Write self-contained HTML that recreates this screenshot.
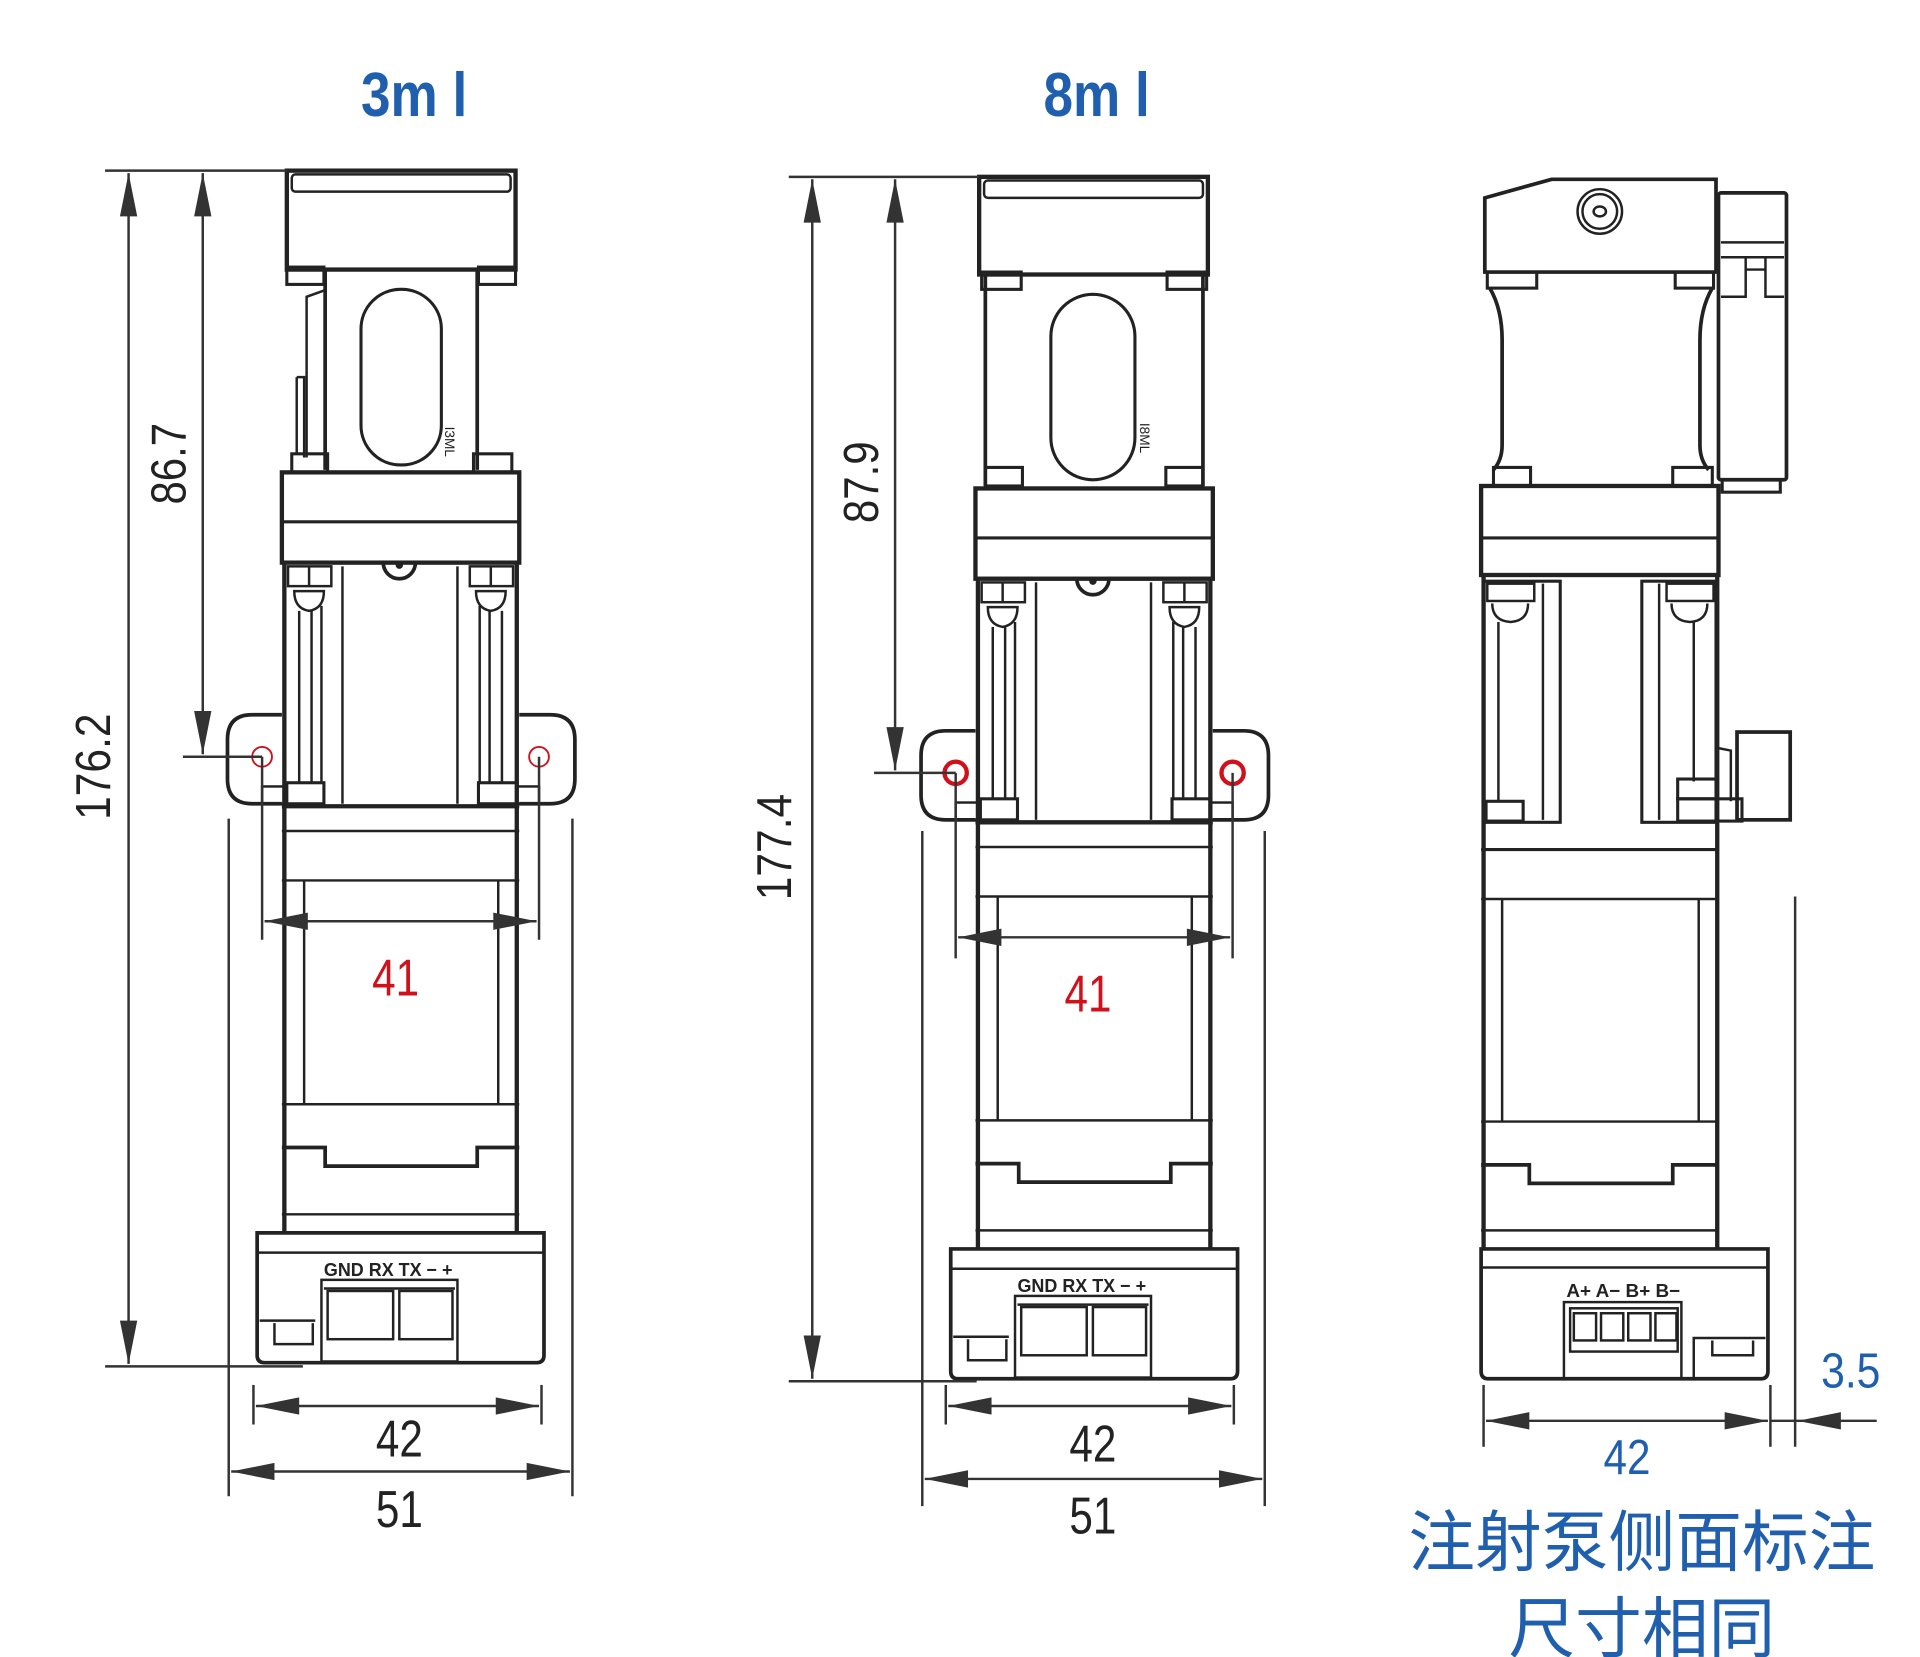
<!DOCTYPE html>
<html><head><meta charset="utf-8"><style>
html,body{margin:0;padding:0;background:#fff;}
svg{display:block;}
text{font-family:"Liberation Sans","Noto Sans CJK SC",sans-serif;}
</style></head><body>
<svg width="1920" height="1657" viewBox="0 0 1553 1340" preserveAspectRatio="none" xmlns="http://www.w3.org/2000/svg">
<defs>
<g id="lower">
  <path d="M228 578 H204 Q184 578 184 598 V630 Q184 650 204 650 H228" fill="none" stroke="#222" stroke-width="3"/>
  <path d="M420 578 H445 Q465 578 465 598 V630 Q465 650 445 650 H420" fill="none" stroke="#222" stroke-width="3"/>
  <rect x="228" y="382" width="192" height="73" fill="none" stroke="#222" stroke-width="3.5"/>
  <line x1="228" y1="422" x2="420" y2="422" stroke="#222" stroke-width="2.5"/>
  <line x1="230" y1="455" x2="230" y2="650" stroke="#222" stroke-width="3.5"/>
  <line x1="418" y1="455" x2="418" y2="650" stroke="#222" stroke-width="3.5"/>
  <path d="M228 455 H310 A13 13 0 0 0 336 455 H420" fill="none" stroke="#222" stroke-width="3"/>
  <circle cx="323" cy="457" r="3" fill="#222"/>
  <line x1="277" y1="458" x2="277" y2="650" stroke="#222" stroke-width="2"/>
  <line x1="370" y1="458" x2="370" y2="650" stroke="#222" stroke-width="2"/>
  <rect x="233" y="458" width="35" height="16" fill="none" stroke="#222" stroke-width="2"/>
  <line x1="250" y1="458" x2="250" y2="474" stroke="#222" stroke-width="2"/>
  <path d="M238 478 Q238 492 250 494 Q262 492 262 478 Z" fill="none" stroke="#222" stroke-width="2"/>
  <line x1="242" y1="494" x2="242" y2="632" stroke="#222" stroke-width="2"/>
  <line x1="252" y1="494" x2="252" y2="632" stroke="#222" stroke-width="2"/>
  <line x1="260" y1="490" x2="260" y2="632" stroke="#222" stroke-width="2"/>
  <rect x="380" y="458" width="35" height="16" fill="none" stroke="#222" stroke-width="2"/>
  <line x1="397" y1="458" x2="397" y2="474" stroke="#222" stroke-width="2"/>
  <path d="M385 478 Q385 492 397 494 Q409 492 409 478 Z" fill="none" stroke="#222" stroke-width="2"/>
  <line x1="388" y1="490" x2="388" y2="632" stroke="#222" stroke-width="2"/>
  <line x1="396" y1="494" x2="396" y2="632" stroke="#222" stroke-width="2"/>
  <line x1="406" y1="494" x2="406" y2="632" stroke="#222" stroke-width="2"/>
  <rect x="232" y="633" width="30" height="17" fill="none" stroke="#222" stroke-width="2.5"/>
  <rect x="387" y="633" width="31" height="17" fill="none" stroke="#222" stroke-width="2.5"/>
  <rect x="212" y="636" width="18" height="14" fill="none" stroke="#222" stroke-width="2"/>
  <rect x="418" y="636" width="18" height="14" fill="none" stroke="#222" stroke-width="2"/>
  <line x1="228" y1="652" x2="420" y2="652" stroke="#222" stroke-width="3.5"/>
  <line x1="230" y1="650" x2="230" y2="998" stroke="#222" stroke-width="3.5"/>
  <line x1="418" y1="650" x2="418" y2="998" stroke="#222" stroke-width="3.5"/>
  <line x1="228" y1="672" x2="420" y2="672" stroke="#222" stroke-width="2"/>
  <line x1="228" y1="712" x2="420" y2="712" stroke="#222" stroke-width="2"/>
  <line x1="246" y1="712" x2="246" y2="893" stroke="#222" stroke-width="2"/>
  <line x1="403" y1="712" x2="403" y2="893" stroke="#222" stroke-width="2"/>
  <line x1="228" y1="893" x2="420" y2="893" stroke="#222" stroke-width="2"/>
  <path d="M228 928 H263 V943 H386 V928 H420" fill="none" stroke="#222" stroke-width="3"/>
  <line x1="228" y1="982" x2="420" y2="982" stroke="#222" stroke-width="2"/>
  <path d="M208 997 H440 V1096 Q440 1102 434 1102 H214 Q208 1102 208 1096 Z" fill="#fff" stroke="#222" stroke-width="3"/>
  <line x1="208" y1="1013" x2="440" y2="1013" stroke="#222" stroke-width="2"/>
  <rect x="260" y="1035" width="110" height="66" fill="none" stroke="#222" stroke-width="2"/>
  <line x1="262" y1="1042" x2="368" y2="1042" stroke="#222" stroke-width="2"/>
  <rect x="265" y="1044" width="53" height="39" fill="none" stroke="#222" stroke-width="2"/>
  <rect x="323" y="1044" width="43" height="39" fill="none" stroke="#222" stroke-width="2"/>
  <path d="M210 1068 H255" stroke="#222" stroke-width="2"/>
  <path d="M222 1070 V1087 H253 V1070" fill="none" stroke="#222" stroke-width="2"/>
  <text x="262" y="1032" font-size="15" font-weight="bold" fill="#222" textLength="104" lengthAdjust="spacingAndGlyphs">GND RX TX − +</text>
</g>
</defs>

<text x="335" y="94" font-size="50" font-weight="bold" fill="#1f5fad" text-anchor="middle" textLength="86" lengthAdjust="spacingAndGlyphs">3m l</text>
<text x="887" y="94" font-size="50" font-weight="bold" fill="#1f5fad" text-anchor="middle" textLength="86" lengthAdjust="spacingAndGlyphs">8m l</text>

<g>
  <rect x="232" y="138" width="185" height="80" fill="none" stroke="#222" stroke-width="3.5"/>
  <rect x="236" y="141" width="177" height="14" rx="3" fill="none" stroke="#222" stroke-width="2"/>
  <rect x="232" y="216" width="30" height="14" fill="none" stroke="#222" stroke-width="2.5"/>
  <rect x="387" y="216" width="30" height="14" fill="none" stroke="#222" stroke-width="2.5"/>
  <line x1="263" y1="218" x2="263" y2="380" stroke="#222" stroke-width="3"/>
  <line x1="386" y1="218" x2="386" y2="380" stroke="#222" stroke-width="3"/>
  <rect x="292" y="234" width="65" height="142" rx="32" fill="none" stroke="#222" stroke-width="2.5"/>
  <text transform="translate(360,345) rotate(90)" font-size="11" fill="#222">I3ML</text>
  <path d="M262 235 L248 240 V370" fill="none" stroke="#222" stroke-width="2"/>
  <path d="M240 305 H246 V370" fill="none" stroke="#222" stroke-width="2"/>
  <line x1="240" y1="305" x2="240" y2="368" stroke="#222" stroke-width="2"/>
  <rect x="236" y="367" width="29" height="15" fill="none" stroke="#222" stroke-width="2.5"/>
  <rect x="383" y="367" width="31" height="15" fill="none" stroke="#222" stroke-width="2.5"/>
  <use href="#lower"/>
  <circle cx="212" cy="612" r="8" fill="none" stroke="#d0101a" stroke-width="1.5"/>
  <circle cx="436" cy="612" r="8" fill="none" stroke="#d0101a" stroke-width="1.5"/>
</g>
<g stroke="#333" stroke-width="2" fill="#333">
  <line x1="85" y1="138" x2="232" y2="138"/>
  <line x1="85" y1="1105" x2="245" y2="1105"/>
  <line x1="104" y1="140" x2="104" y2="1103"/>
  <polygon points="104,140 97,175 111,175" stroke="none"/>
  <polygon points="104,1103 97,1068 111,1068" stroke="none"/>
  <line x1="148" y1="612" x2="212" y2="612"/>
  <line x1="164" y1="140" x2="164" y2="610"/>
  <polygon points="164,140 157,175 171,175" stroke="none"/>
  <polygon points="164,610 157,575 171,575" stroke="none"/>
  <line x1="212" y1="612" x2="212" y2="760"/>
  <line x1="436" y1="612" x2="436" y2="760"/>
  <line x1="214" y1="745" x2="434" y2="745"/>
  <polygon points="214,745 249,738 249,752" stroke="none"/>
  <polygon points="434,745 399,738 399,752" stroke="none"/>
  <line x1="205" y1="1120" x2="205" y2="1152"/>
  <line x1="438" y1="1120" x2="438" y2="1152"/>
  <line x1="207" y1="1137" x2="436" y2="1137"/>
  <polygon points="207,1137 242,1130 242,1144" stroke="none"/>
  <polygon points="436,1137 401,1130 401,1144" stroke="none"/>
  <line x1="185" y1="662" x2="185" y2="1210"/>
  <line x1="463" y1="662" x2="463" y2="1210"/>
  <line x1="187" y1="1190" x2="461" y2="1190"/>
  <polygon points="187,1190 222,1183 222,1197" stroke="none"/>
  <polygon points="461,1190 426,1183 426,1197" stroke="none"/>
</g>
<text transform="translate(89,620) rotate(-90)" font-size="40" fill="#222" text-anchor="middle" textLength="86" lengthAdjust="spacingAndGlyphs">176.2</text>
<text transform="translate(150,375) rotate(-90)" font-size="40" fill="#222" text-anchor="middle" textLength="66" lengthAdjust="spacingAndGlyphs">86.7</text>
<text x="320" y="805" font-size="42" fill="#d0101a" text-anchor="middle" textLength="38" lengthAdjust="spacingAndGlyphs">41</text>
<text x="323" y="1178" font-size="42" fill="#222" text-anchor="middle" textLength="38" lengthAdjust="spacingAndGlyphs">42</text>
<text x="323" y="1235" font-size="42" fill="#222" text-anchor="middle" textLength="38" lengthAdjust="spacingAndGlyphs">51</text>

<g>
  <rect x="792" y="143" width="185" height="79" fill="none" stroke="#222" stroke-width="3.5"/>
  <rect x="796" y="146" width="177" height="14" rx="3" fill="none" stroke="#222" stroke-width="2"/>
  <rect x="794" y="220" width="32" height="14" fill="none" stroke="#222" stroke-width="2.5"/>
  <rect x="944" y="220" width="32" height="14" fill="none" stroke="#222" stroke-width="2.5"/>
  <line x1="797" y1="222" x2="797" y2="393" stroke="#222" stroke-width="3"/>
  <line x1="973" y1="222" x2="973" y2="393" stroke="#222" stroke-width="3"/>
  <rect x="850" y="238" width="68" height="150" rx="34" fill="none" stroke="#222" stroke-width="2.5"/>
  <text transform="translate(922,342) rotate(90)" font-size="11" fill="#222">I8ML</text>
  <rect x="797" y="378" width="30" height="15" fill="none" stroke="#222" stroke-width="2.5"/>
  <rect x="943" y="378" width="30" height="15" fill="none" stroke="#222" stroke-width="2.5"/>
  <use href="#lower" transform="translate(561,13)"/>
  <circle cx="773" cy="625" r="9" fill="none" stroke="#d0101a" stroke-width="3.5"/>
  <circle cx="997" cy="625" r="9" fill="none" stroke="#d0101a" stroke-width="3.5"/>
</g>
<g stroke="#333" stroke-width="2" fill="#333">
  <line x1="638" y1="143" x2="792" y2="143"/>
  <line x1="638" y1="1117" x2="790" y2="1117"/>
  <line x1="657" y1="145" x2="657" y2="1115"/>
  <polygon points="657,145 650,180 664,180" stroke="none"/>
  <polygon points="657,1115 650,1080 664,1080" stroke="none"/>
  <line x1="707" y1="625" x2="773" y2="625"/>
  <line x1="724" y1="145" x2="724" y2="623"/>
  <polygon points="724,145 717,180 731,180" stroke="none"/>
  <polygon points="724,623 717,588 731,588" stroke="none"/>
  <line x1="773" y1="625" x2="773" y2="775"/>
  <line x1="997" y1="625" x2="997" y2="775"/>
  <line x1="775" y1="758" x2="995" y2="758"/>
  <polygon points="775,758 810,751 810,765" stroke="none"/>
  <polygon points="995,758 960,751 960,765" stroke="none"/>
  <line x1="765" y1="1120" x2="765" y2="1152"/>
  <line x1="998" y1="1120" x2="998" y2="1152"/>
  <line x1="767" y1="1137" x2="996" y2="1137"/>
  <polygon points="767,1137 802,1130 802,1144" stroke="none"/>
  <polygon points="996,1137 961,1130 961,1144" stroke="none"/>
  <line x1="746" y1="672" x2="746" y2="1218"/>
  <line x1="1023" y1="672" x2="1023" y2="1218"/>
  <line x1="748" y1="1196" x2="1021" y2="1196"/>
  <polygon points="748,1196 783,1189 783,1203" stroke="none"/>
  <polygon points="1021,1196 986,1189 986,1203" stroke="none"/>
</g>
<text transform="translate(640,685) rotate(-90)" font-size="40" fill="#222" text-anchor="middle" textLength="86" lengthAdjust="spacingAndGlyphs">177.4</text>
<text transform="translate(710,390) rotate(-90)" font-size="40" fill="#222" text-anchor="middle" textLength="66" lengthAdjust="spacingAndGlyphs">87.9</text>
<text x="880" y="818" font-size="42" fill="#d0101a" text-anchor="middle" textLength="38" lengthAdjust="spacingAndGlyphs">41</text>
<text x="884" y="1182" font-size="42" fill="#222" text-anchor="middle" textLength="38" lengthAdjust="spacingAndGlyphs">42</text>
<text x="884" y="1240" font-size="42" fill="#222" text-anchor="middle" textLength="38" lengthAdjust="spacingAndGlyphs">51</text>

<g fill="none" stroke="#222" stroke-width="3">
  <path d="M1201 160 L1255 145 H1388 V220 H1201 Z"/>
  <circle cx="1294" cy="171" r="18" stroke-width="2"/>
  <circle cx="1294" cy="171" r="14" stroke-width="2"/>
  <ellipse cx="1294" cy="171" rx="5" ry="4" stroke-width="2"/>
  <rect x="1203" y="220" width="40" height="13" stroke-width="2.5"/>
  <rect x="1355" y="220" width="31" height="13" stroke-width="2.5"/>
  <path d="M1205 233 Q1215 250 1215 275 V360 Q1215 372 1208 380"/>
  <path d="M1385 233 Q1375 250 1375 275 V360 Q1375 372 1382 380"/>
  <rect x="1208" y="378" width="30" height="15" stroke-width="2.5"/>
  <rect x="1353" y="378" width="32" height="15" stroke-width="2.5"/>
  <rect x="1390" y="156" width="55" height="232" rx="2"/>
  <line x1="1392" y1="196" x2="1443" y2="196" stroke-width="2"/>
  <path d="M1392 208 H1443 M1392 240 H1412 V208 M1443 240 H1428 V208 M1412 218 H1428" stroke-width="2"/>
  <rect x="1393" y="388" width="47" height="10" stroke-width="2.5"/>
  <rect x="1198" y="393" width="192" height="72" stroke-width="3.5"/>
  <line x1="1198" y1="435" x2="1390" y2="435" stroke-width="2.5"/>
  <line x1="1200" y1="465" x2="1200" y2="1010" stroke-width="3.5"/>
  <line x1="1389" y1="465" x2="1389" y2="1010" stroke-width="3.5"/>
  <rect x="1200" y="470" width="62" height="195" stroke-width="2.5"/>
  <line x1="1248" y1="472" x2="1248" y2="663" stroke-width="2"/>
  <rect x="1328" y="470" width="60" height="195" stroke-width="2.5"/>
  <line x1="1342" y1="472" x2="1342" y2="663" stroke-width="2"/>
  <rect x="1203" y="472" width="38" height="14" stroke-width="2"/>
  <path d="M1207 488 Q1207 502 1222 503 Q1236 502 1236 488" stroke-width="2"/>
  <line x1="1212" y1="503" x2="1212" y2="648" stroke-width="2"/>
  <rect x="1348" y="472" width="38" height="14" stroke-width="2"/>
  <path d="M1352 488 Q1352 502 1367 503 Q1381 502 1381 488" stroke-width="2"/>
  <line x1="1370" y1="503" x2="1370" y2="632" stroke-width="2"/>
  <rect x="1202" y="648" width="30" height="16" stroke-width="2.5"/>
  <rect x="1357" y="630" width="32" height="16" stroke-width="2.5"/>
  <rect x="1357" y="646" width="52" height="18" stroke-width="2.5"/>
  <rect x="1405" y="592" width="43" height="71" stroke-width="3"/>
  <path d="M1390 605 L1400 607 V648" stroke-width="2"/>
  <line x1="1198" y1="687" x2="1390" y2="687" stroke-width="2.5"/>
  <line x1="1198" y1="727" x2="1390" y2="727" stroke-width="2"/>
  <line x1="1215" y1="727" x2="1215" y2="907" stroke-width="2"/>
  <line x1="1374" y1="727" x2="1374" y2="907" stroke-width="2"/>
  <line x1="1198" y1="907" x2="1390" y2="907" stroke-width="2"/>
  <path d="M1198 942 H1237 V957 H1353 V942 H1390"/>
  <line x1="1198" y1="995" x2="1390" y2="995" stroke-width="2"/>
  <path d="M1198 1010 H1430 V1109 Q1430 1115 1424 1115 H1204 Q1198 1115 1198 1109 Z"/>
  <line x1="1198" y1="1025" x2="1430" y2="1025" stroke-width="2"/>
  <rect x="1265" y="1053" width="95" height="62" stroke-width="2"/>
  <rect x="1270" y="1058" width="87" height="35" stroke-width="2"/>
  <rect x="1273" y="1062" width="18" height="22" stroke-width="2"/>
  <rect x="1295" y="1062" width="18" height="22" stroke-width="2"/>
  <rect x="1317" y="1062" width="18" height="22" stroke-width="2"/>
  <rect x="1339" y="1062" width="17" height="22" stroke-width="2"/>
  <path d="M1370 1115 V1082 H1428" stroke-width="2"/>
  <path d="M1385 1084 V1096 H1418 V1084" stroke-width="2"/>
</g>
<text x="1267" y="1049" font-size="15" font-weight="bold" fill="#222" textLength="92" lengthAdjust="spacingAndGlyphs">A+ A− B+ B−</text>
<g stroke="#333" stroke-width="2" fill="#333">
  <line x1="1200" y1="1120" x2="1200" y2="1170"/>
  <line x1="1432" y1="1120" x2="1432" y2="1170"/>
  <line x1="1452" y1="725" x2="1452" y2="1170"/>
  <line x1="1202" y1="1149" x2="1430" y2="1149"/>
  <polygon points="1202,1149 1237,1142 1237,1156" stroke="none"/>
  <polygon points="1430,1149 1395,1142 1395,1156" stroke="none"/>
  <line x1="1432" y1="1149" x2="1518" y2="1149"/>
  <polygon points="1454,1149 1489,1142 1489,1156" stroke="none"/>
</g>
<text x="1497" y="1122" font-size="40" fill="#1f5fad" text-anchor="middle" textLength="48" lengthAdjust="spacingAndGlyphs">3.5</text>
<text x="1316" y="1192" font-size="40" fill="#1f5fad" text-anchor="middle" textLength="38" lengthAdjust="spacingAndGlyphs">42</text>
<text x="1328" y="1266" font-size="54" fill="#1f5fad" text-anchor="middle" font-family="'Noto Sans CJK SC',sans-serif">注射泵侧面标注</text>
<text x="1328" y="1336" font-size="54" fill="#1f5fad" text-anchor="middle" font-family="'Noto Sans CJK SC',sans-serif">尺寸相同</text>
</svg>
</body></html>
